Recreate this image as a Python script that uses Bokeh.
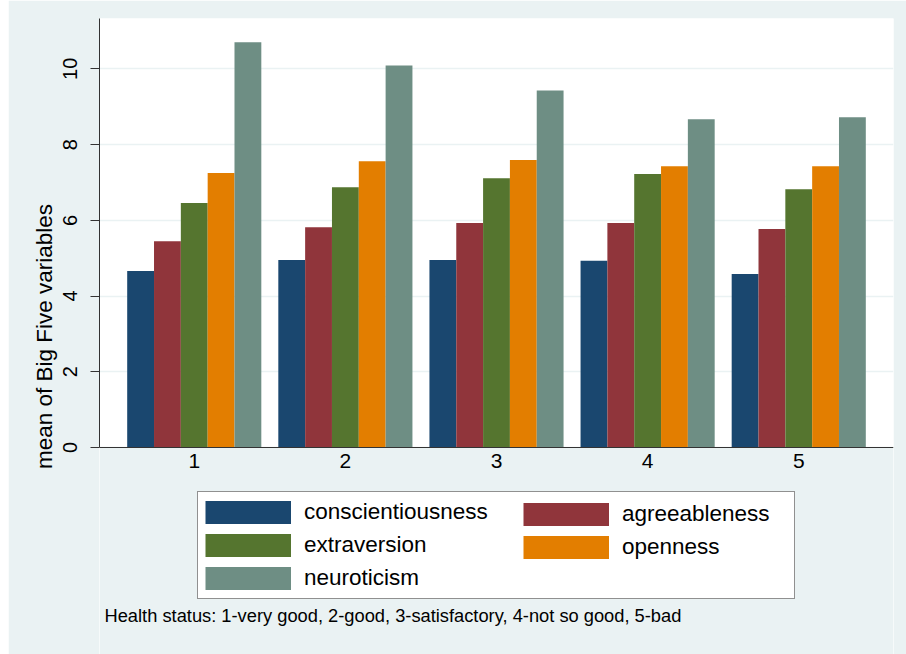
from bokeh.plotting import figure
from bokeh.models import Range1d, Legend, LegendItem, Label, FixedTicker, BoxAnnotation
from bokeh.embed import file_html
from bokeh.resources import INLINE

# ---- data ----
groups = [1, 2, 3, 4, 5]
series = ["conscientiousness", "agreeableness", "extraversion", "openness", "neuroticism"]
conscientiousness = [4.66, 4.95, 4.95, 4.93, 4.58]
agreeableness = [5.45, 5.82, 5.93, 5.93, 5.77]
extraversion = [6.46, 6.87, 7.11, 7.22, 6.82]
openness = [7.25, 7.56, 7.59, 7.43, 7.43]
neuroticism = [10.70, 10.09, 9.43, 8.67, 8.72]
y_ticks = [0, 2, 4, 6, 8, 10]
y_title = "mean of Big Five variables"
caption = "Health status: 1-very good, 2-good, 3-satisfactory, 4-not so good, 5-bad"

values = [conscientiousness, agreeableness, extraversion, openness, neuroticism]
colors = ["#1A476F", "#90353B", "#55752F", "#E37E00", "#6E8E84"]

FONT = "Liberation Sans"
BG = "#EAF2F3"
AX = "#333333"

Y_TOP = 11.33
Y_BOTTOM = -5.467   # room below the axis for legend and note

p = figure(width=898, height=654, margin=(0, 0, 0, 8),
           x_range=Range1d(0.373, 5.627), y_range=Range1d(Y_BOTTOM, Y_TOP),
           output_backend="svg", toolbar_location=None,
           min_border_left=91, min_border_right=13,
           min_border_top=18, min_border_bottom=0,
           background_fill_color="white", border_fill_color=BG,
           outline_line_color=None)

# area below the axis takes the outer background colour
p.add_layout(BoxAnnotation(top=0, fill_color=BG, fill_alpha=1.0,
                           line_color=None, level="underlay"))

nan = float("nan")
bar_w = 0.1775
bar_r = []
dummy_r = []
for i, (name, vals, col) in enumerate(zip(series, values, colors)):
    xs = [g + (i - 2) * bar_w for g in groups]
    r = p.vbar(x=xs, top=vals, bottom=0, width=bar_w,
               fill_color=col, line_color=None)
    bar_r.append(r)
    # legend swatch helper (draws nothing in the plot)
    d = p.line(x=[nan, nan], y=[nan, nan], line_color=col, line_width=23, line_cap="butt")
    dummy_r.append(d)

# axes
p.xaxis.fixed_location = 0
p.xaxis.ticker = FixedTicker(ticks=groups, minor_ticks=[])
p.xaxis.major_tick_out = 0
p.xaxis.major_tick_in = 0
p.xaxis.minor_tick_out = 0
p.xaxis.axis_line_color = AX
p.xaxis.axis_line_width = 1
p.xaxis.major_label_text_font = FONT
p.xaxis.major_label_text_font_size = "21px"
p.xaxis.major_label_text_color = "black"
p.xaxis.major_label_standoff = 7

p.yaxis.bounds = (0, Y_TOP)
p.yaxis.ticker = FixedTicker(ticks=y_ticks, minor_ticks=[])
p.yaxis.major_tick_out = 9
p.yaxis.major_tick_in = 0
p.yaxis.minor_tick_out = 0
p.yaxis.major_tick_line_color = AX
p.yaxis.axis_line_color = AX
p.yaxis.axis_line_width = 1
p.yaxis.major_label_orientation = "vertical"
p.yaxis.major_label_text_font = FONT
p.yaxis.major_label_text_font_size = "20px"
p.yaxis.major_label_text_color = "black"
p.yaxis.major_label_standoff = 13
p.yaxis.axis_label = y_title
p.yaxis.axis_label_text_font = FONT
p.yaxis.axis_label_text_font_size = "22.5px"
p.yaxis.axis_label_text_font_style = "normal"
p.yaxis.axis_label_text_color = "black"
p.yaxis.axis_label_standoff = 4

p.xgrid.visible = False
p.ygrid.grid_line_color = BG
p.ygrid.grid_line_width = 1.5

# legend (two column blocks inside one box)
common = dict(orientation="vertical", padding=7, spacing=7,
              glyph_width=86, glyph_height=26, label_height=26,
              label_standoff=13, margin=0,
              label_text_font=FONT, label_text_font_size="22.5px",
              label_text_color="black")
col1 = [0, 2, 4]
col2 = [1, 3]
leg1 = Legend(items=[LegendItem(label=series[i], renderers=[bar_r[i], dummy_r[i]]) for i in col1],
              location=(98, 55), label_width=483,
              border_line_color="#222222", border_line_width=1,
              background_fill_color="white", background_fill_alpha=1.0, **common)
leg2 = Legend(items=[LegendItem(label=series[i], renderers=[bar_r[i], dummy_r[i]]) for i in col2],
              location=(424, 94),
              border_line_color=None, background_fill_alpha=0.0, **common)
p.add_layout(leg1, "center")
p.add_layout(leg2, "center")

cap = Label(x=5, y=39, x_units="screen", y_units="screen", text=caption,
            text_font=FONT, text_font_size="18.3px", text_color="black",
            text_baseline="alphabetic", text_align="left")
p.add_layout(cap)

open("out.html", "w").write(file_html(p, INLINE))
